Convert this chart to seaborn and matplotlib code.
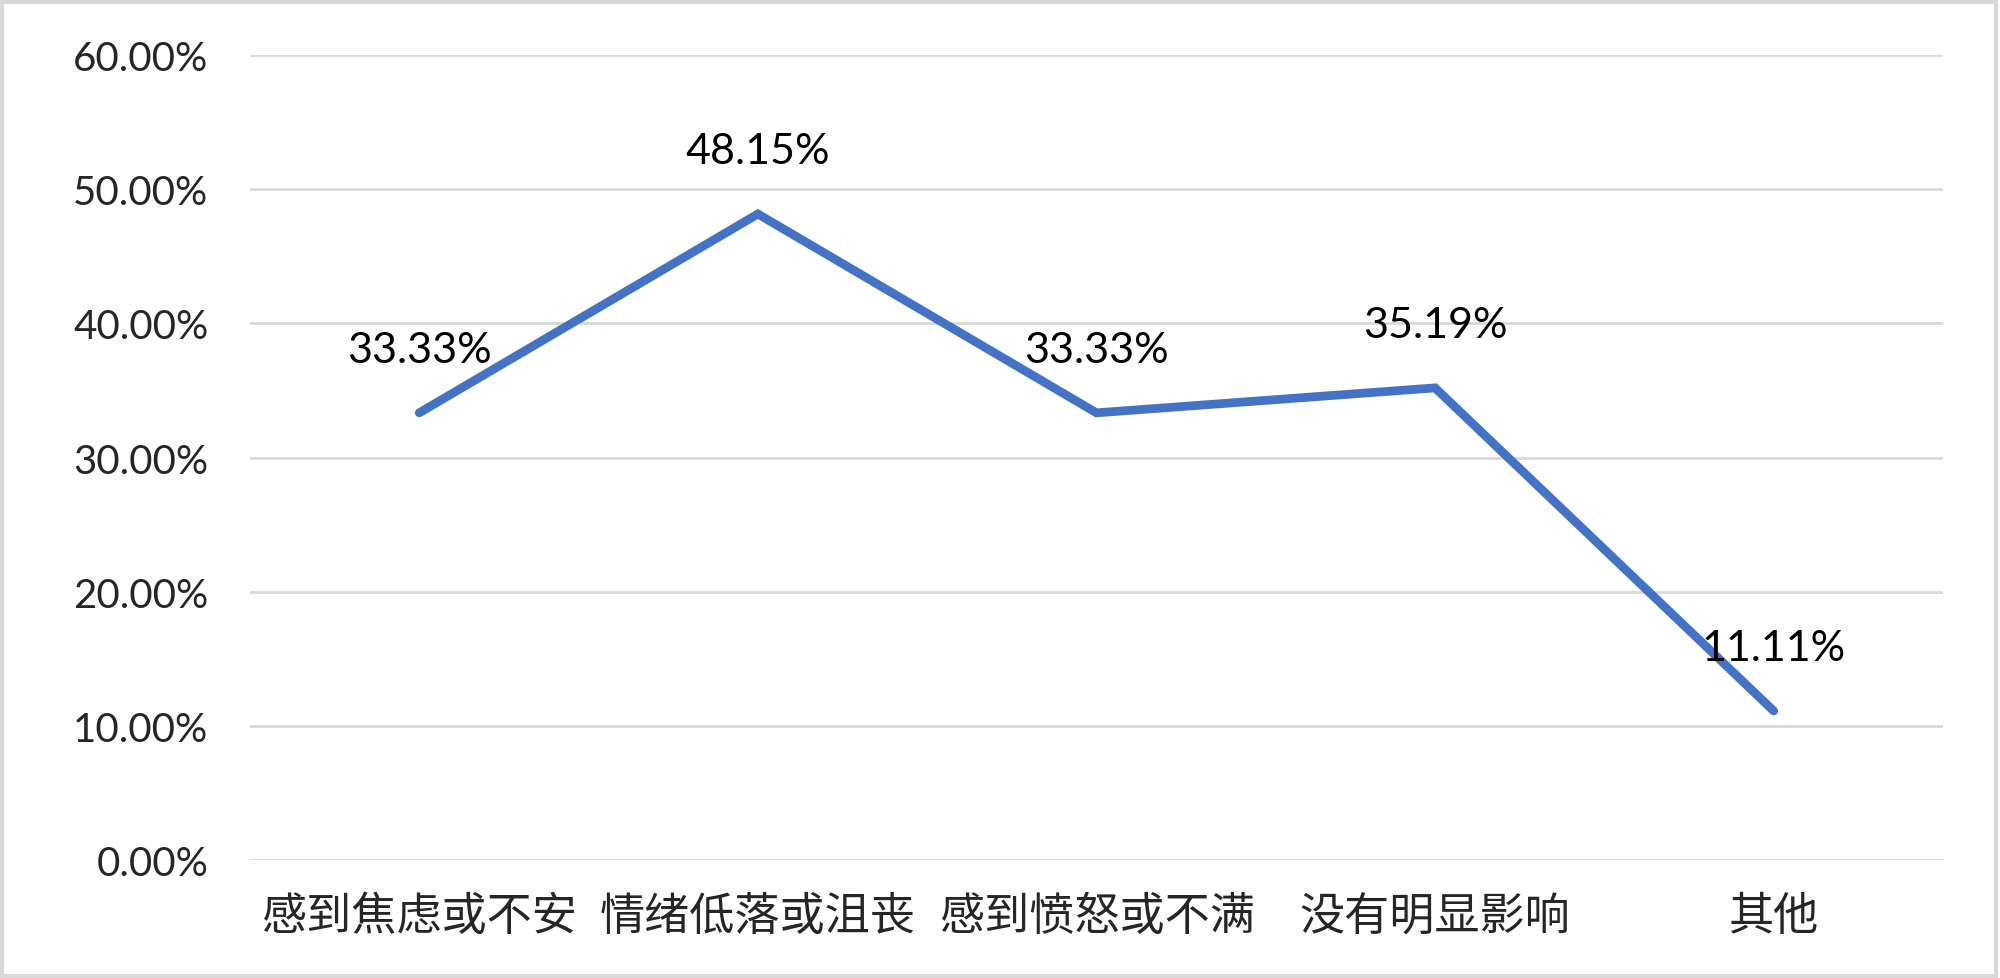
import matplotlib
matplotlib.use("Agg")
import matplotlib.pyplot as plt
import pandas
import seaborn

categories = ["感到焦虑或不安", "情绪低落或沮丧", "感到愤怒或不满", "没有明显影响", "其他"]
shares = [0.3333, 0.4815, 0.3333, 0.3519, 0.1111]
y_ticks = [0.0, 0.1, 0.2, 0.3, 0.4, 0.5, 0.6]

LINE_BLUE = "#4472C4"
GRID_GREY = "#D9D9D9"


def main():
    seaborn.set_theme(style="white")
    plt.rcParams["font.family"] = ["Lato", "Noto Sans CJK SC", "DejaVu Sans"]

    df = pandas.DataFrame({"category": categories, "share": shares})

    fig = plt.figure(figsize=(20, 9.79), dpi=100)
    ax = fig.add_axes([0.125, 0.1205, 0.8465, 0.8223])

    for y in y_ticks:
        ax.axhline(y, color=GRID_GREY, linewidth=2, zorder=0)

    seaborn.lineplot(ax=ax, data=df, x="category", y="share", sort=False,
                     color=LINE_BLUE, linewidth=6.3, zorder=3)
    for line in ax.get_lines():
        line.set_solid_capstyle("round")
        line.set_solid_joinstyle("miter")

    # value labels sit above each point
    for i, v in enumerate(shares):
        ax.annotate("{:.2%}".format(v), (i, v), xytext=(0, 45), textcoords="offset points",
                    ha="center", va="center", fontsize=31, color="black", zorder=4)

    ax.set_xlim(-0.5, len(categories) - 0.5)
    ax.set_ylim(0, 0.6)
    ax.set_yticks(y_ticks)
    ax.set_yticklabels(["{:.2%}".format(t) for t in y_ticks], fontsize=29)
    ax.set_xticks(range(len(categories)))
    ax.set_xticklabels(categories, fontsize=32.5, family=["Noto Sans CJK SC", "DejaVu Sans"])
    ax.tick_params(axis="y", length=0, pad=30)
    ax.tick_params(axis="x", length=0, pad=24)
    ax.set_xlabel("")
    ax.set_ylabel("")
    for spine in ax.spines.values():
        spine.set_visible(False)

    border = plt.Rectangle((0.001, 0.002), 0.997, 0.995, transform=fig.transFigure,
                           fill=False, edgecolor=GRID_GREY, linewidth=3)
    fig.patches.append(border)

    fig.savefig("out.png", dpi=100, facecolor="white")


if __name__ == "__main__":
    main()
